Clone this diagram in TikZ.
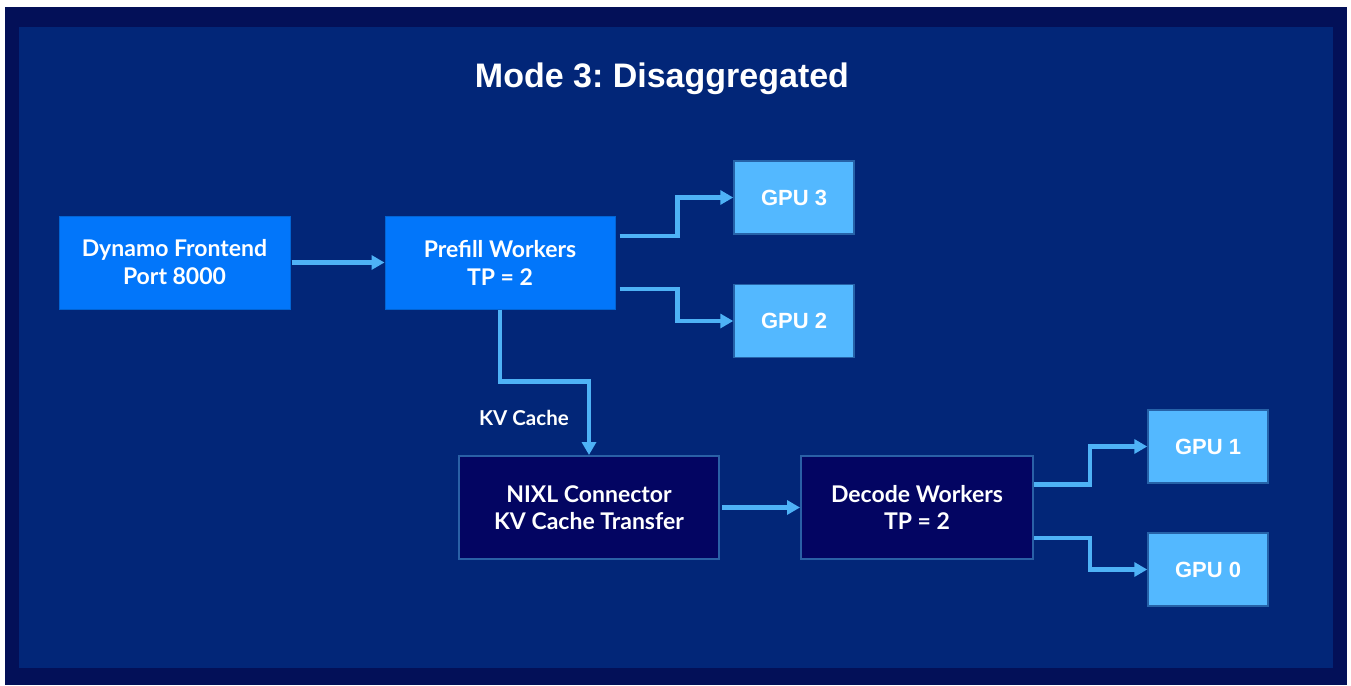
\documentclass[tikz,border=0pt]{standalone}
\usepackage{fontspec}
\setmainfont{Lato}
\newfontfamily\gpufont{Liberation Sans}
\usepackage{tikz}
\usetikzlibrary{positioning,arrows.meta,calc}
\definecolor{cframe}{RGB}{3,16,88}
\definecolor{cpanel}{RGB}{2,38,120}
\definecolor{cbright}{RGB}{2,118,250}
\definecolor{cgpu}{RGB}{83,184,255}
\definecolor{cgpuedge}{RGB}{38,98,168}
\definecolor{cdeep}{RGB}{3,5,98}
\definecolor{cdeepedge}{RGB}{42,96,166}
\definecolor{carrow}{RGB}{78,178,246}

\begin{document}
\begin{tikzpicture}[x=1pt,y=-1pt,
  worker/.style={fill=cbright,draw=cbright!85!black,line width=1pt,align=center,
    text=white,font=\fontsize{23}{28}\selectfont\bfseries,inner sep=0pt},
  xfer/.style={fill=cdeep,draw=cdeepedge,line width=2pt,align=center,
    text=white,font=\fontsize{23}{27}\selectfont\bfseries,inner sep=0pt},
  gpu/.style={fill=cgpu,draw=cgpuedge,line width=1.5pt,text=white,
    font=\gpufont\fontsize{22}{26}\selectfont\bfseries,
    minimum width=120pt,minimum height=73pt,inner sep=0pt},
  flow/.style={-{Triangle[length=13pt,width=14pt]},line width=4.5pt,carrow},
  lbl/.style={text=white,font=\fontsize{20.5}{24}\selectfont\bfseries,inner sep=0pt},
]
% frame and panel
\fill[white] (0,0) rectangle (1351,685);
\fill[cframe] (5,7) rectangle (1347,685);
\fill[cpanel] (19,27) rectangle (1333,668);
\node[text=white,font=\gpufont\fontsize{34}{40}\selectfont\bfseries] (title) at (662,78.5) {Mode 3:~Disaggregated};

% prefill side
\node[worker,minimum width=231pt,minimum height=93pt] (front) at (174.5,262.5) {Dynamo Frontend\\Port 8000};
\node[worker,minimum width=230pt,minimum height=93pt] (prefill) at (500,262.5) {Prefill Workers\\TP = 2};
\node[gpu] (gpu3) at (794,197.5) {GPU 3};
\node[gpu] (gpu2) at (794,321) {GPU 2};

% decode side
\node[xfer,minimum width=260pt,minimum height=103pt] (nixl) at (589,507.5) {NIXL Connector\\KV Cache Transfer};
\node[xfer,minimum width=232pt,minimum height=103pt] (decode) at (917,507.5) {Decode Workers\\TP = 2};
\node[gpu] (gpu1) at (1208,446.5) {GPU 1};
\node[gpu] (gpu0) at (1208,569.5) {GPU 0};

\draw[flow,shorten <=1pt] (front) -- (prefill);
\draw[flow] ([xshift=4pt,yshift=26.5pt]prefill.east) -- ++(58pt,0) |- (gpu3.west);
\draw[flow] ([xshift=4pt,yshift=-26.5pt]prefill.east) -- ++(58pt,0) |- (gpu2.west);
\draw[flow] (prefill.south) -- ++(0,-72pt) -| (nixl.north)
  node[lbl,pos=0.75,left=18pt] (kvlbl) {KV Cache};
\draw[flow,shorten <=2pt] (nixl) -- (decode);
\draw[flow] ([yshift=23pt]decode.east) -- ++(56pt,0) |- (gpu1.west);
\draw[flow] ([yshift=-30.5pt]decode.east) -- ++(56pt,0) |- (gpu0.west);
\end{tikzpicture}
\end{document}
